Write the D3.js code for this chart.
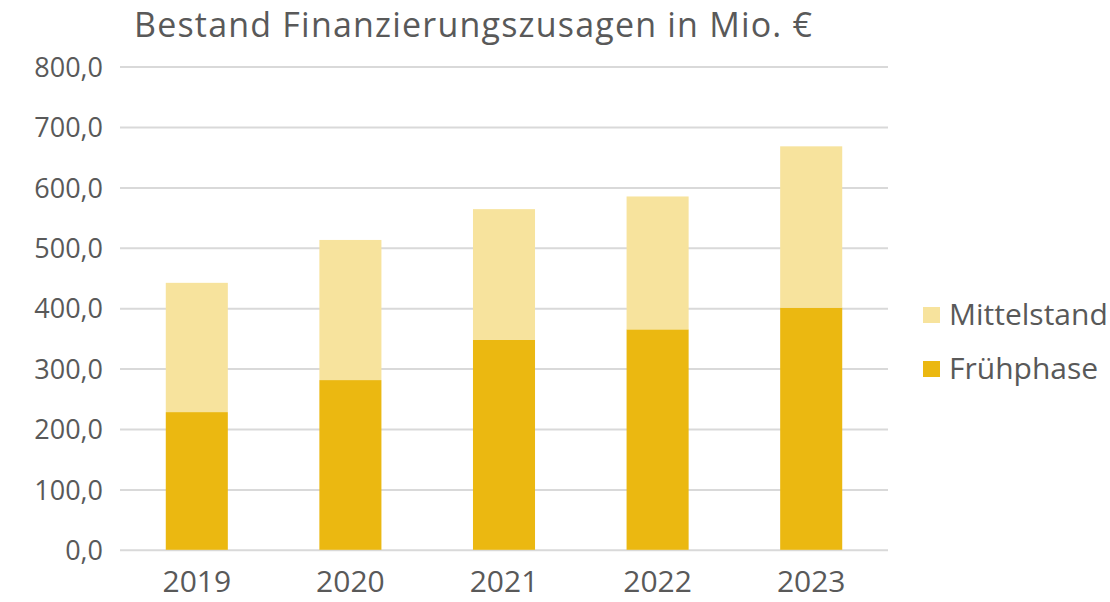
<!DOCTYPE html>
<head>
  <meta charset="utf-8">
  <script src="https://d3js.org/d3.v7.min.js"></script>
  <style>
    body { margin:0; background:#fff; }
    text { font-family: "Open Sans", sans-serif; fill:#595959; }
  </style>
</head>
<body>
<script>
// values (Mio. €)
var years = ["2019", "2020", "2021", "2022", "2023"];
var fruehphase = [228, 281, 348, 365, 401];
var mittelstand = [214, 232, 216, 220, 267];
var yTicks = [0, 100, 200, 300, 400, 500, 600, 700, 800];
var seriesNames = ["Fr\u00fchphase", "Mittelstand"];
var colors = {"Fr\u00fchphase": "#EBB811", "Mittelstand": "#F7E39D"};

var width = 1110, height = 602;
var margin = {top: 67, left: 120, right: 222, bottom: 53};

var svg = d3.select("body").append("svg")
    .attr("width", width)
    .attr("height", height);

var x = d3.scaleBand()
    .domain(years)
    .range([margin.left, width - margin.right])
    .paddingInner(0.596)
    .paddingOuter(0.298);

var y = d3.scaleLinear()
    .domain([0, 800])
    .range([height - margin.bottom + 0.8, margin.top - 0.4]);

// title
svg.append("text")
    .attr("x", 134)
    .attr("y", 37)
    .style("font-size", "34px")
    .style("letter-spacing", "1.2px")
    .text("Bestand Finanzierungszusagen in Mio. \u20ac");

// gridlines + y labels
var yAxis = svg.append("g")
    .attr("transform", "translate(" + margin.left + ",0)")
    .call(d3.axisLeft(y)
      .tickValues(yTicks)
      .tickSize(-(width - margin.left - margin.right))
      .tickPadding(17)
      .tickFormat(function(d){ return d3.format(".1f")(d).replace(".", ","); }));
yAxis.select(".domain").remove();
yAxis.selectAll("line").attr("stroke", "#D9D9D9").attr("stroke-width", 2);
yAxis.selectAll("text").style("font-size", "27px").attr("fill", "#595959")
    .attr("dy", "0.36em");

// stacked bars
var rows = years.map(function(yr, i){
  return {year: yr, "Fr\u00fchphase": fruehphase[i], "Mittelstand": mittelstand[i]};
});
var stack = d3.stack().keys(seriesNames)(rows);

svg.append("g").selectAll("g")
  .data(stack)
  .enter().append("g")
    .attr("fill", function(d){ return colors[d.key]; })
  .selectAll("rect")
  .data(function(d){ return d; })
  .enter().append("rect")
    .attr("x", function(d){ return x(d.data.year); })
    .attr("y", function(d){ return y(d[1]); })
    .attr("height", function(d){ return y(d[0]) - y(d[1]); })
    .attr("width", x.bandwidth());

// x labels
var xAxis = svg.append("g")
    .attr("transform", "translate(0," + y(0) + ")")
    .call(d3.axisBottom(x).tickSize(0).tickPadding(0));
xAxis.select(".domain").remove();
xAxis.selectAll("text").style("font-size", "30px").attr("fill", "#595959")
    .attr("dy", null).attr("y", 42);

// legend
var legendItems = ["Mittelstand", "Fr\u00fchphase"];
var legend = svg.append("g").selectAll("g")
  .data(legendItems)
  .enter().append("g")
    .attr("transform", function(d, i){ return "translate(923," + (315 + i * 54) + ")"; });
legend.append("rect")
    .attr("x", 0).attr("y", -8)
    .attr("width", 17).attr("height", 16)
    .attr("fill", function(d){ return colors[d]; });
legend.append("text")
    .attr("x", 26)
    .attr("y", 10)
    .style("font-size", "30px")
    .text(function(d){ return d; });
</script>
</body>
